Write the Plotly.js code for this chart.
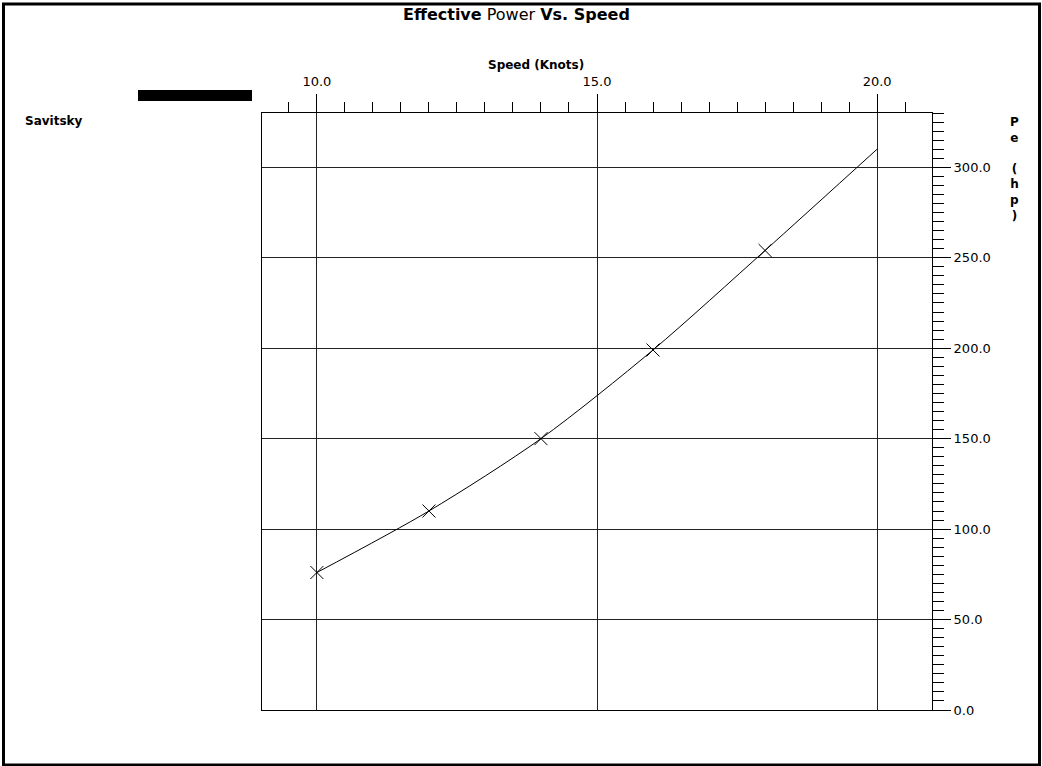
<!DOCTYPE html>
<html>
<head>
<meta charset="utf-8">
<script src="https://cdn.plot.ly/plotly-3.0.1.min.js"></script>
<style>
html,body{margin:0;padding:0;background:#fff;}
#chart{width:1042px;height:766px;}
</style>
</head>
<body>
<div id="chart"></div>
<script>
// ---- data ----
const seriesName = "Savitsky";
const curveSpeed = [10, 12, 14, 16, 18, 20];          // knots
const curvePower = [76, 110, 150, 199, 254, 310];     // Pe (hp)
const markerSpeed = [10, 12, 14, 16, 18];
const markerPower = [76, 110, 150, 199, 254];
const chartTitle = "<b>Effective</b> Power <b>Vs. Speed</b>";
const xTitle = "<b>Speed (Knots)</b>";
const yTitle = "<b>P<br>e<br> <br>(<br>h<br>p<br>)</b>";

// ---- layout geometry (pixels) ----
const L = 262, R = 932, T = 113, B = 710;
const W = R - L, H = B - T;
const px = x => (x - L) / W;
const py = y => (B - y) / H;

const FONT = "DejaVu Sans";

const traces = [
  {
    x: curveSpeed, y: curvePower, type: "scatter", mode: "lines",
    line: {color: "#000", width: 1, shape: "spline", smoothing: 0.8},
    name: seriesName, showlegend: false, hoverinfo: "skip"
  },
  {
    x: markerSpeed, y: markerPower, type: "scatter", mode: "markers",
    marker: {symbol: "x-thin", size: 13, color: "#000", line: {color: "#000", width: 1}},
    name: seriesName, showlegend: false
  }
];

const layout = {
  width: 1042, height: 766,
  paper_bgcolor: "#fff", plot_bgcolor: "#fff",
  margin: {l: L, r: 1042 - R, t: T, b: 766 - B, pad: 0},
  showlegend: false,
  font: {family: FONT, color: "#000", size: 13},
  xaxis: {
    side: "top", range: [9.02, 20.98], dtick: 5, tick0: 0,
    tickformat: ".1f", ticks: "outside", ticklen: 18, tickwidth: 1, tickcolor: "#000",
    ticklabelstandoff: 3,
    showline: true, mirror: true, linecolor: "#000", linewidth: 1,
    showgrid: true, gridcolor: "#222", gridwidth: 1, zeroline: false,
    tickfont: {family: FONT, size: 13, color: "#000"},
    minor: {dtick: 0.5, tick0: 0, ticks: "outside", ticklen: 10, tickwidth: 1, tickcolor: "#000", showgrid: false}
  },
  yaxis: {
    side: "right", range: [0, 330], dtick: 50, tick0: 0,
    tickformat: ".1f", ticks: "outside", ticklen: 18, tickwidth: 1, tickcolor: "#000",
    showline: true, mirror: true, linecolor: "#000", linewidth: 1,
    showgrid: true, gridcolor: "#222", gridwidth: 1, zeroline: false,
    tickfont: {family: FONT, size: 13, color: "#000"},
    minor: {dtick: 5, tick0: 0, ticks: "outside", ticklen: 11, tickwidth: 1, tickcolor: "#000", showgrid: false}
  },
  shapes: [
    // outer frame
    {type: "rect", xref: "paper", yref: "paper",
     x0: px(3.5), x1: px(1039.5), y0: py(765), y1: py(4),
     line: {color: "#000", width: 3}, fillcolor: "rgba(0,0,0,0)", layer: "above"},
    // legend swatch
    {type: "rect", xref: "paper", yref: "paper",
     x0: px(138), x1: px(252), y0: py(101), y1: py(90),
     line: {width: 0}, fillcolor: "#000"}
  ],
  annotations: [
    {text: chartTitle, xref: "paper", yref: "paper", x: px(516), y: py(14),
     xanchor: "center", yanchor: "middle", showarrow: false,
     font: {family: FONT, size: 16, color: "#000"}},
    {text: xTitle, xref: "paper", yref: "paper", x: px(536), y: py(65),
     xanchor: "center", yanchor: "middle", showarrow: false,
     font: {family: FONT, size: 12, color: "#000"}},
    {text: "<b>" + seriesName + "</b>", xref: "paper", yref: "paper", x: px(23), y: py(121),
     xanchor: "left", yanchor: "middle", showarrow: false,
     font: {family: FONT, size: 12, color: "#000"}},
    {text: yTitle, xref: "paper", yref: "paper", x: px(1014), y: py(113),
     xanchor: "center", yanchor: "top", showarrow: false, align: "center",
     font: {family: FONT, size: 12, color: "#000"}}
  ]
};

Plotly.newPlot("chart", traces, layout, {displayModeBar: false, staticPlot: true});
</script>
</body>
</html>
